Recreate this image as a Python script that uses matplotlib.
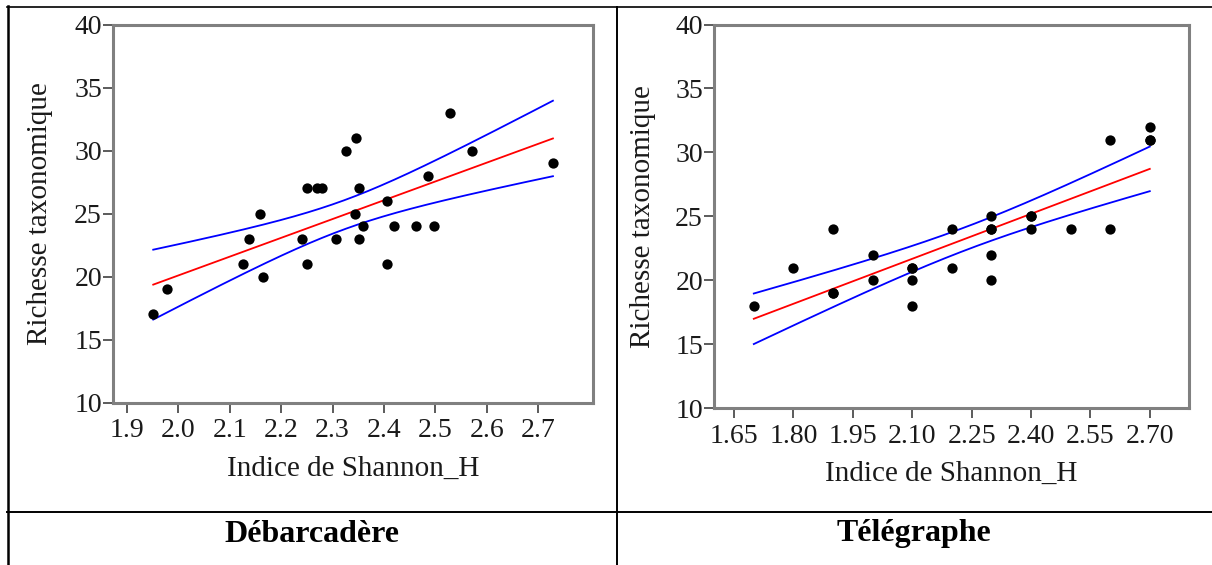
import numpy as np
import matplotlib
matplotlib.use("Agg")
import matplotlib.pyplot as plt
from matplotlib.lines import Line2D

plt.rcParams['font.family'] = ['Liberation Serif', 'DejaVu Serif']

# Débarcadère
deb_h = [1.951, 1.977, 2.126, 2.137, 2.159, 2.165, 2.240, 2.250, 2.251, 2.270,
         2.279, 2.307, 2.326, 2.345, 2.344, 2.352, 2.352, 2.360, 2.406, 2.406,
         2.420, 2.463, 2.486, 2.497, 2.529, 2.571, 2.729]
deb_s = [17, 19, 21, 23, 25, 20, 23, 21, 27, 27,
         27, 23, 30, 31, 25, 27, 23, 24, 26, 21,
         24, 24, 28, 24, 33, 30, 29]

# Télégraphe (last five are stations hidden under another dot)
tel_h = [1.70, 1.80, 1.90, 1.90, 2.00, 2.00, 2.10, 2.10, 2.10, 2.20, 2.20,
         2.30, 2.30, 2.30, 2.30, 2.40, 2.40, 2.50, 2.60, 2.60, 2.70, 2.70,
         2.70, 1.90, 2.10, 2.30, 2.40]
tel_s = [18, 21, 24, 19, 22, 20, 21, 20, 18, 24, 21,
         25, 24, 22, 20, 25, 24, 24, 31, 24, 32, 31,
         31, 19, 21, 24, 25]

deb_ticks = [1.9, 2.0, 2.1, 2.2, 2.3, 2.4, 2.5, 2.6, 2.7]
tel_ticks = [1.65, 1.80, 1.95, 2.10, 2.25, 2.40, 2.55, 2.70]
y_ticks = [10, 15, 20, 25, 30, 35, 40]
sites = ['Débarcadère', 'Télégraphe']
t_crit = {25: 2.060, 20: 2.086}

W, H = 1212, 565
fig = plt.figure(figsize=(W / 100, H / 100), dpi=100)
fig.patch.set_facecolor('white')

def px(x0, y0, x1, y1):
    return [x0 / W, 1 - y1 / H, (x1 - x0) / W, (y1 - y0) / H]

def draw(ax, xs, ys, xlim, ticks, tickfmt, ylab_x, xlab_y):
    xs = np.array(xs)
    ys = np.array(ys, dtype=float)
    n = len(xs)
    b, a = np.polyfit(xs, ys, 1)
    resid = ys - (a + b * xs)
    s = np.sqrt(np.sum(resid ** 2) / (n - 2))
    sxx = np.sum((xs - xs.mean()) ** 2)
    xx = np.linspace(xs.min(), xs.max(), 200)
    fit = a + b * xx
    half = t_crit[n - 2] * s * np.sqrt(1 / n + (xx - xs.mean()) ** 2 / sxx)
    ax.plot(xx, fit, color='red', lw=1.3, zorder=2)
    ax.plot(xx, fit + half, color='blue', lw=1.3, zorder=2)
    ax.plot(xx, fit - half, color='blue', lw=1.3, zorder=2)
    ax.scatter(xs, ys, s=55, color='black', zorder=3, linewidths=0)
    ax.set_xlim(*xlim)
    ax.set_ylim(10, 40)
    ax.set_xticks(ticks)
    ax.set_xticklabels([tickfmt.format(t) for t in ticks])
    ax.set_yticks(y_ticks)
    for sp in ax.spines.values():
        sp.set_color('#808080')
        sp.set_linewidth(2.2)
    ax.tick_params(axis='both', direction='out', length=7, width=1.2,
                   color='#404040', labelsize=20, labelcolor='#1a1a1a')
    ax.tick_params(axis='y', pad=1)
    ax.tick_params(axis='x', pad=4)
    ax.set_ylabel('Richesse taxonomique', fontsize=21, color='#1a1a1a')
    ax.set_xlabel('Indice de Shannon_H', fontsize=21, color='#1a1a1a')
    ax.yaxis.set_label_coords(ylab_x, 0.5)
    ax.xaxis.set_label_coords(0.5, xlab_y)

ax1 = fig.add_axes(px(113, 24.5, 593, 402.5))
draw(ax1, deb_h, deb_s, (1.8727, 2.807), deb_ticks, '{:.1f}', -0.124, -0.142)

ax2 = fig.add_axes(px(714, 24.5, 1189, 408.3))
draw(ax2, tel_h, tel_s, (1.5995, 2.799), tel_ticks, '{:.2f}', -0.122, -0.138)

# table borders
def hline(y, x0, x1, lw):
    fig.add_artist(Line2D([x0 / W, x1 / W], [1 - y / H, 1 - y / H],
                          color='black', lw=lw, transform=fig.transFigure))

def vline(x, y0, y1, lw):
    fig.add_artist(Line2D([x / W, x / W], [1 - y0 / H, 1 - y1 / H],
                          color='black', lw=lw, transform=fig.transFigure))

hline(7, 7, 1212, 1.2)
hline(511.7, 7, 1212, 1.4)
vline(8, 6, 565, 1.8)
vline(616.7, 7, 565, 1.4)

fig.text(312 / W, 1 - 534 / H, sites[0], ha='center', va='center',
         fontsize=23, fontweight='bold')
fig.text(914 / W, 1 - 534 / H, sites[1], ha='center', va='center',
         fontsize=23, fontweight='bold')

fig.savefig('out.png', dpi=100)
